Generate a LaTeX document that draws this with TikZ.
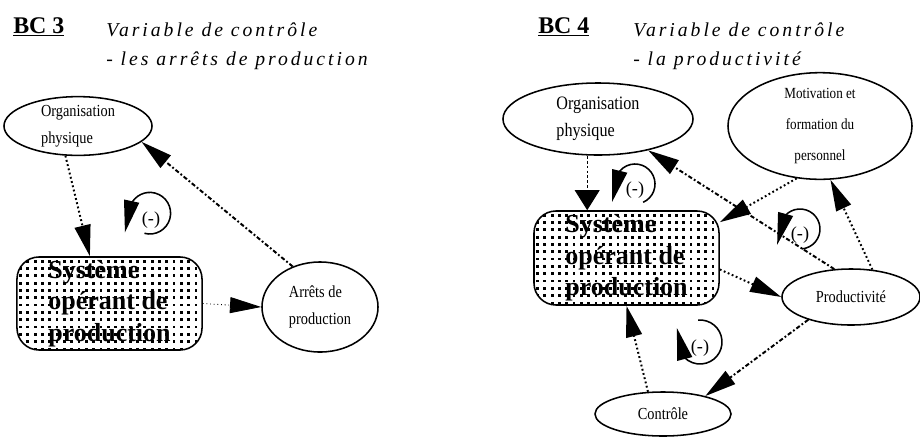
\documentclass[tikz,border=0pt]{standalone}
\usepackage{fontspec}
\setmainfont{Liberation Serif}
\newfontfamily\narrowfont[FakeStretch=0.85]{Liberation Serif}
\newfontfamily\titlefont[LetterSpace=15]{Liberation Serif}
\usepackage{tikz}
\usetikzlibrary{positioning,shapes.geometric,arrows.meta}

\begin{document}
\begin{tikzpicture}[
    x=0.025cm, y=-0.025cm,
    bubble/.style={
        draw,
        ellipse,
        line width=1.1pt,
        inner sep=0pt,
        align=left,
        font=\narrowfont\fontsize{12}{19}\selectfont
    },
    sysbox/.style={
        draw,
        rectangle,
        rounded corners=0.55cm,
        line width=1.1pt,
        minimum width=4.625cm,
        inner sep=0pt,
        align=left,
        font=\bfseries\fontsize{18.5}{22.5}\selectfont,
        path picture={
            \foreach \i in {0,...,26}{
                \foreach \j in {0,...,13}{
                    \fill[sharp corners] ([shift={(\i*5.2pt+1.5pt,-\j*5.2pt-2pt)}]path picture bounding box.north west) rectangle ++(2pt,-2pt);
                }
            }
        }
    },
    bc/.style={anchor=base west, inner sep=0pt, font=\bfseries\fontsize{17}{20}\selectfont},
    heading/.style={anchor=base west, inner sep=0pt, align=left, font=\titlefont\itshape\fontsize{14}{20.6}\selectfont},
    minus/.style={inner sep=0pt, font=\fontsize{13}{13}\selectfont},
    dotline/.style={line width=1.4pt, dash pattern=on 1.3pt off 1.8pt},
    dashdots/.style={line width=1.4pt, dash pattern=on 3pt off 1.6pt on 1.3pt off 1.6pt},
    thindots/.style={line width=0.6pt, dash pattern=on 0.6pt off 2pt},
    thindash/.style={line width=0.7pt, dash pattern=on 2pt off 1.5pt},
    bigtip/.style={-{Triangle[length=0.78cm,width=0.4cm]}},
    widetip/.style={-{Triangle[length=0.5cm,width=0.62cm]}},
    feedback/.style={line width=1.1pt, -{Triangle[length=0.8cm,width=0.38cm]}}
]
\useasboundingbox (0,0) rectangle (920,436);

% BC 3 : les arrets de production
\node[bc] (bcA) at (13,33) {\underline{BC 3}};
\node[heading] (titleA) at (106,65) {Variable de contrôle\\- les arrêts de production};

\node[bubble, minimum width=3.7cm, minimum height=1.45cm] (orgA) at (78,126) {Organisation\\physique};
\node[sysbox, minimum height=2.325cm] (sysA) at (109.5,303.5) {Système\\opérant de\\production};
\node[bubble, minimum width=2.9cm, minimum height=2.25cm] (arrA) at (320,307) {Arrêts de\\production};
\node[minus] (minusA) at (151,220) {(-)};

\draw[dotline, bigtip] (orgA.247) -- ([xshift=-0.49cm]sysA.north);
\draw[thindots, bigtip] (sysA.east) -- (arrA.west);
\draw[dashdots, bigtip] (arrA.124) -- (orgA.-14);
\draw[feedback] ([shift={(-0.03cm,0.17cm)}]minusA.center) ++(-105:0.52cm)
    arc[start angle=-105, end angle=155, radius=0.52cm] -- ++(-0.15cm,-0.7cm);

% BC 4 : la productivite
\node[bc] (bcB) at (538,33) {\underline{BC 4}};
\node[heading] (titleB) at (633,65) {Variable de contrôle\\- la productivité};

\node[bubble, minimum width=4.75cm, minimum height=1.8cm, font=\narrowfont\fontsize{13.5}{19}\selectfont] (orgB) at (598,119) {Organisation\\physique};
\node[bubble, minimum width=4.6cm, minimum height=2.55cm, align=center, font=\narrowfont\fontsize{11}{22}\selectfont] (motB) at (820,126) {Motivation et\\formation du\\personnel};
\node[sysbox, minimum height=2.35cm] (sysB) at (626.5,258) {Système\\opérant de\\production};
\node[bubble, minimum width=3.45cm, minimum height=1.4cm] (proB) at (851,297) {Productivité};
\node[bubble, minimum width=3.4cm, minimum height=1.1cm] (conB) at (663,414) {Contrôle};
\node[minus] (minusB) at (635,190) {(-)};
\node[minus] (minusC) at (800,235) {(-)};
\node[minus] (minusD) at (700,348) {(-)};

\draw[thindash, widetip] ([xshift=-0.27cm]orgB.south) -- ([xshift=-0.27cm]orgB.south |- sysB.north);
\draw[dashdots, bigtip] (proB.121) -- (orgB.-32);
\draw[dotline, bigtip] (motB.246) -- (sysB.21);
\draw[dotline, bigtip] (proB.52) -- (motB.281);
\draw[dotline, bigtip] (sysB.-7) -- (proB.west);
\draw[dashdots, bigtip] (proB.208) -- (conB.23);
\draw[dotline, bigtip] (conB.124) -- (sysB.south);

\draw[feedback] ([shift={(0cm,0.15cm)}]minusB.center) ++(-66:0.5cm)
    arc[start angle=-66, end angle=140, radius=0.5cm] -- ++(-0.19cm,-0.77cm);
\draw[feedback] ([shift={(0cm,0.15cm)}]minusC.center) ++(-85:0.5cm)
    arc[start angle=-85, end angle=138, radius=0.5cm] -- ++(-0.2cm,-0.73cm);
\draw[feedback] ([shift={(0cm,0.15cm)}]minusD.center) ++(95:0.55cm)
    arc[start angle=95, end angle=-135, radius=0.55cm] -- ++(-0.19cm,0.74cm);

\end{tikzpicture}
\end{document}
